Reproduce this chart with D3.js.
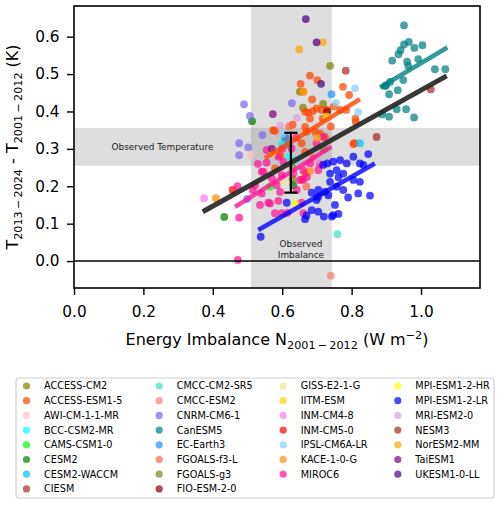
<!DOCTYPE html>
<html>
<head>
<meta charset="utf-8">
<script src="https://cdn.jsdelivr.net/npm/d3@7/dist/d3.min.js"></script>
<style>
  body { margin: 0; background: #fff; }
  svg text { font-family: "DejaVu Sans", sans-serif; fill: #000; }
</style>
</head>
<body>
<div id="chart"></div>
<script>
// model names, in legend order
const models = [
  "ACCESS-CM2", "ACCESS-ESM1-5", "AWI-CM-1-1-MR", "BCC-CSM2-MR", "CAMS-CSM1-0", "CESM2", "CESM2-WACCM", "CIESM",
  "CMCC-CM2-SR5", "CMCC-ESM2", "CNRM-CM6-1", "CanESM5", "EC-Earth3", "FGOALS-f3-L", "FGOALS-g3", "FIO-ESM-2-0",
  "GISS-E2-1-G", "IITM-ESM", "INM-CM4-8", "INM-CM5-0", "IPSL-CM6A-LR", "KACE-1-0-G", "MIROC6",
  "MPI-ESM1-2-HR", "MPI-ESM1-2-LR", "MRI-ESM2-0", "NESM3", "NorESM2-MM", "TaiESM1", "UKESM1-0-LL"
];

// [energy imbalance N 2001-2012 (W m-2), warming T2013-2024 - T2001-2012 (K)] per ensemble member
const ptsACCESS_CM2 = [[0.738,0.522],[0.651,0.453],[0.718,0.420],[0.660,0.410],[0.630,0.220]];
const ptsACCESS_ESM1_5 = [[0.680,0.496],[0.701,0.484],[0.653,0.474],[0.775,0.466],[0.661,0.453],[0.686,0.432],
  [0.793,0.444],[0.699,0.408],[0.714,0.404],[0.666,0.399],[0.675,0.397],[0.688,0.401],[0.728,0.404],[0.749,0.413],
  [0.680,0.381],[0.717,0.381],[0.666,0.359],[0.695,0.346],[0.709,0.341],[0.767,0.404],[0.784,0.404],[0.811,0.381],
  [0.812,0.372],[0.808,0.315],[0.579,0.348],[0.723,0.332],[0.574,0.350],[0.608,0.328],[0.670,0.346],[0.656,0.315],
  [0.666,0.292],[0.690,0.275],[0.579,0.248],[0.603,0.310],[0.594,0.283],[0.805,0.313],[0.656,0.217],[0.666,0.234],
  [0.740,0.360],[0.630,0.365]];
const ptsAWI = [[0.509,0.283],[0.690,0.250]];
const ptsBCC = [[0.599,0.315],[0.620,0.280]];
const ptsCAMS = [[0.565,0.199]];
const ptsCESM2 = [[0.513,0.374],[0.433,0.118],[0.632,0.203]];
const ptsCESM2_WACCM = [[0.824,0.315],[0.620,0.310]];
const ptsCIESM = [[1.028,0.459]];
const ptsCMCC_CM2_SR5 = [[0.759,0.072],[0.640,0.270]];
const ptsCMCC_ESM2 = [[0.740,-0.039]];
const ptsCNRM = [[0.490,0.419],[0.628,0.422],[0.507,0.388],[0.543,0.337],[0.476,0.315],[0.502,0.304],[0.476,0.283],[0.499,0.166]];
const ptsCanESM5 = [[0.951,0.630],[0.951,0.579],[0.965,0.586],[1.004,0.577],[0.981,0.570],[0.941,0.564],[0.935,0.553],
  [0.917,0.536],[0.960,0.533],[0.992,0.540],[0.963,0.522],[1.040,0.513],[1.070,0.513],[0.949,0.484],[0.911,0.479],
  [0.896,0.468],[0.933,0.457],[0.908,0.446],[0.930,0.406],[0.957,0.406],[0.888,0.392],[0.908,0.386],[0.980,0.384],
  [0.900,0.470]];
const ptsEC_Earth3 = [[0.742,0.446],[0.610,0.330]];
const ptsFGOALS_f3 = [[0.670,0.199],[0.620,0.360]];
const ptsFGOALS_g3 = [[0.630,0.250],[0.720,0.300]];
const ptsFIO = [[0.730,0.400]];
const ptsGISS = [[0.600,0.210]];
const ptsIITM = [[0.728,0.386]];
const ptsINM_CM4_8 = [[0.375,0.168]];
const ptsINM_CM5_0 = [[0.457,0.190]];
const ptsIPSL = [[0.810,0.462],[0.755,0.423],[0.819,0.398],[0.600,0.340]];
const ptsKACE = [[0.409,0.168],[0.680,0.240]];
const ptsMIROC6 = [[0.471,0.200],[0.476,0.116],[0.472,0.003],[0.555,0.263],[0.589,0.279],[0.603,0.266],[0.541,0.239],
  [0.570,0.221],[0.599,0.230],[0.651,0.217],[0.671,0.225],[0.515,0.190],[0.541,0.181],[0.594,0.185],[0.642,0.190],
  [0.536,0.150],[0.565,0.154],[0.589,0.161],[0.579,0.128],[0.599,0.128],[0.615,0.129],[0.656,0.156],[0.699,0.315],
  [0.718,0.332],[0.627,0.301],[0.661,0.243],[0.680,0.261],[0.555,0.297],[0.522,0.203],[0.584,0.203],[0.632,0.234],
  [0.661,0.218],[0.704,0.243],[0.709,0.259],[0.661,0.128],[0.546,0.239],[0.560,0.156],[0.530,0.260],[0.600,0.300],
  [0.640,0.330]];
const ptsMPI_HR = [[0.637,0.154],[0.573,0.290]];
const ptsMPI_LR = [[0.538,0.065],[0.666,0.112],[0.685,0.136],[0.704,0.132],[0.720,0.119],[0.743,0.119],[0.762,0.126],
  [0.752,0.150],[0.699,0.163],[0.704,0.172],[0.685,0.183],[0.704,0.190],[0.723,0.185],[0.738,0.212],[0.757,0.199],
  [0.776,0.190],[0.790,0.170],[0.762,0.224],[0.805,0.217],[0.824,0.212],[0.819,0.181],[0.853,0.175],[0.848,0.286],
  [0.805,0.279],[0.824,0.261],[0.834,0.257],[0.786,0.261],[0.767,0.270],[0.747,0.266],[0.730,0.261],[0.718,0.257],
  [0.613,0.156],[0.738,0.234],[0.757,0.243],[0.776,0.234],[0.733,0.176],[0.747,0.123],[0.670,0.122]];
const ptsMRI = [[0.642,0.383],[0.594,0.362],[0.700,0.270]];
const ptsNESM3 = [[0.783,0.509],[0.872,0.332]];
const ptsNorESM2 = [[0.717,0.585],[0.649,0.566],[0.661,0.453],[0.700,0.330]];
const ptsTaiESM1 = [[0.573,0.393],[0.570,0.300]];
const ptsUKESM = [[0.668,0.647],[0.699,0.585],[0.712,0.474]];

const modelPoints = [
  ptsACCESS_CM2, ptsACCESS_ESM1_5, ptsAWI, ptsBCC, ptsCAMS, ptsCESM2, ptsCESM2_WACCM, ptsCIESM,
  ptsCMCC_CM2_SR5, ptsCMCC_ESM2, ptsCNRM, ptsCanESM5, ptsEC_Earth3, ptsFGOALS_f3, ptsFGOALS_g3, ptsFIO,
  ptsGISS, ptsIITM, ptsINM_CM4_8, ptsINM_CM5_0, ptsIPSL, ptsKACE, ptsMIROC6,
  ptsMPI_HR, ptsMPI_LR, ptsMRI, ptsNESM3, ptsNorESM2, ptsTaiESM1, ptsUKESM
];

// per-model regression lines (models with large ensembles)
const fitModels = ["ACCESS-ESM1-5", "CanESM5", "MIROC6", "MPI-ESM1-2-LR"];
const fitX0 = [0.550, 0.882, 0.464, 0.531];
const fitY0 = [0.275, 0.464, 0.145, 0.083];
const fitX1 = [0.824, 1.076, 0.742, 0.867];
const fitY1 = [0.433, 0.571, 0.306, 0.261];

// regression across all members
const allFitX = [0.371, 1.074];
const allFitY = [0.132, 0.495];

// observations
const obsImbalance = [0.51, 0.743];
const obsTemperature = [0.255, 0.356];
const obsErrX = 0.625;
const obsErrY = [0.183, 0.343];

const xTicks = [0, 0.2, 0.4, 0.6, 0.8, 1.0];
const yTicks = [0, 0.1, 0.2, 0.3, 0.4, 0.5, 0.6];

// colours (style)
const colors = [
  "#808000", "#ff4500", "#ffc0cb", "#00ffff", "#00ff00", "#008000", "#00bfff", "#a52a2a",
  "#40e0d0", "#fa8072", "#7b68ee", "#008080", "#1e90ff", "#ff6347", "#6b8e23", "#8b0000",
  "#f0e68c", "#ffd700", "#ee82ee", "#ff0000", "#87cefa", "#ff8c00", "#ff1493",
  "#ffff00", "#0000ff", "#dda0dd", "#a52a2a", "#ffa500", "#800080", "#4b0082"
];
const color = d3.scaleOrdinal().domain(models).range(colors);

const font = "DejaVu Sans, sans-serif";
const width = 500, height = 505;
const margin = {left: 74, right: 20, top: 6, bottom: 217};

const svg = d3.select("#chart").append("svg")
    .attr("width", width)
    .attr("height", height);

const x = d3.scaleLinear().domain([0, 1.17]).range([margin.left, width - margin.right]);
const y = d3.scaleLinear().domain([-0.072, 0.682]).range([height - margin.bottom, margin.top]);

svg.append("clipPath").attr("id", "clip")
  .append("rect")
    .attr("x", x(0)).attr("y", y(0.682))
    .attr("width", x(1.17) - x(0)).attr("height", y(-0.072) - y(0.682));

const plot = svg.append("g").attr("clip-path", "url(#clip)");

// observed ranges
plot.append("rect")
    .attr("x", x(obsImbalance[0])).attr("width", x(obsImbalance[1]) - x(obsImbalance[0]))
    .attr("y", y(0.682)).attr("height", y(-0.072) - y(0.682))
    .attr("fill", "#808080").attr("fill-opacity", 0.26);
plot.append("rect")
    .attr("x", x(0)).attr("width", x(1.17) - x(0))
    .attr("y", y(obsTemperature[1])).attr("height", y(obsTemperature[0]) - y(obsTemperature[1]))
    .attr("fill", "#808080").attr("fill-opacity", 0.26);

plot.append("text")
    .attr("x", x(0.255)).attr("y", y(0.3055))
    .attr("dy", "0.35em")
    .attr("text-anchor", "middle")
    .style("font-family", font)
    .style("font-size", "8.9px")
    .style("fill", "#222")
    .text("Observed Temperature");

const imb = plot.append("text")
    .attr("text-anchor", "middle")
    .style("font-family", font)
    .style("font-size", "8.9px")
    .style("fill", "#222");
imb.append("tspan").attr("x", x(0.654)).attr("y", y(0.045)).attr("dy", "0.35em").text("Observed");
imb.append("tspan").attr("x", x(0.654)).attr("y", y(0.017)).attr("dy", "0.35em").text("Imbalance");

// ensemble members
const allPts = [];
models.forEach((m, i) => modelPoints[i].forEach(p => allPts.push({model: m, x: p[0], y: p[1]})));

plot.selectAll("circle.member")
  .data(allPts)
  .enter()
  .append("circle")
    .attr("class", "member")
    .attr("cx", d => x(d.x))
    .attr("cy", d => y(d.y))
    .attr("r", 3.9)
    .attr("fill", d => color(d.model))
    .attr("fill-opacity", 0.72);

// zero line
plot.append("line")
    .attr("x1", x(0)).attr("x2", x(1.17))
    .attr("y1", y(0)).attr("y2", y(0))
    .attr("stroke", "#000").attr("stroke-width", 1.6);

// per-model fits
plot.selectAll("line.fit")
  .data(fitModels)
  .enter()
  .append("line")
    .attr("class", "fit")
    .attr("x1", (d, i) => x(fitX0[i])).attr("y1", (d, i) => y(fitY0[i]))
    .attr("x2", (d, i) => x(fitX1[i])).attr("y2", (d, i) => y(fitY1[i]))
    .attr("stroke", d => color(d))
    .attr("stroke-width", 4.5)
    .attr("stroke-opacity", 0.8);

// multi-model fit
plot.append("line")
    .attr("x1", x(allFitX[0])).attr("y1", y(allFitY[0]))
    .attr("x2", x(allFitX[1])).attr("y2", y(allFitY[1]))
    .attr("stroke", "#222")
    .attr("stroke-width", 5)
    .attr("stroke-opacity", 0.9);

// observed warming uncertainty
const eb = plot.append("g").attr("stroke", "#000").attr("stroke-width", 2.2);
eb.append("line").attr("x1", x(obsErrX)).attr("x2", x(obsErrX)).attr("y1", y(obsErrY[0])).attr("y2", y(obsErrY[1]));
obsErrY.forEach(v => {
  eb.append("line").attr("x1", x(obsErrX) - 6.5).attr("x2", x(obsErrX) + 6.5).attr("y1", y(v)).attr("y2", y(v));
});

// axes
const xAxis = svg.append("g")
    .attr("transform", `translate(0, ${y(-0.072)})`)
    .call(d3.axisBottom(x).tickValues(xTicks).tickFormat(d3.format(".1f")).tickSize(7).tickPadding(11).tickSizeOuter(0));
const yAxis = svg.append("g")
    .attr("transform", `translate(${x(0)}, 0)`)
    .call(d3.axisLeft(y).tickValues(yTicks).tickFormat(d3.format(".1f")).tickSize(7).tickPadding(7.5).tickSizeOuter(0));
[xAxis, yAxis].forEach(a => {
  a.select(".domain").remove();
  a.selectAll(".tick line").attr("stroke", "#000").attr("stroke-width", 1.4);
  a.selectAll(".tick text").style("font-size", "15.3px").style("font-family", font);
});

// frame
svg.append("rect")
    .attr("x", x(0)).attr("y", y(0.682))
    .attr("width", x(1.17) - x(0)).attr("height", y(-0.072) - y(0.682))
    .attr("fill", "none").attr("stroke", "#000").attr("stroke-width", 1.6);

// axis labels
const xl = svg.append("text")
    .attr("x", (x(0) + x(1.17)) / 2).attr("y", 345)
    .attr("text-anchor", "middle")
    .style("font-family", font)
    .style("font-size", "16px");
xl.append("tspan").text("Energy Imbalance N");
xl.append("tspan").attr("dy", 3.8).style("font-size", "11.2px").text("2001\u2009\u2212\u20092012");
xl.append("tspan").attr("dy", -3.8).text(" (W m");
xl.append("tspan").attr("dy", -6.5).style("font-size", "11.2px").text("\u22122");
xl.append("tspan").attr("dy", 6.5).text(")");

const yl = svg.append("text")
    .attr("transform", `translate(18, ${(y(0.682) + y(-0.072)) / 2}) rotate(-90)`)
    .attr("text-anchor", "middle")
    .style("font-family", font)
    .style("font-size", "16px");
yl.append("tspan").text("T");
yl.append("tspan").attr("dy", 3.8).style("font-size", "11.2px").text("2013\u2009\u2212\u20092024");
yl.append("tspan").attr("dy", -3.8).text(" - T");
yl.append("tspan").attr("dy", 3.8).style("font-size", "11.2px").text("2001\u2009\u2212\u20092012");
yl.append("tspan").attr("dy", -3.8).text(" (K)");

// legend
const legendX = [44, 176.7, 300.7, 415.3];
const colStart = [0, 8, 16, 23];
const rowH = 14.7, row0 = 386;

svg.append("rect")
    .attr("x", 16).attr("y", 378)
    .attr("width", 478).attr("height", 120)
    .attr("rx", 3)
    .attr("fill", "#fff").attr("stroke", "#d0d0d0").attr("stroke-width", 1.2);

const leg = svg.selectAll("g.leg")
  .data(models)
  .enter()
  .append("g")
    .attr("class", "leg")
    .attr("transform", (d, i) => {
      let c = 3;
      while (i < colStart[c]) c--;
      const r = i - colStart[c];
      return `translate(${legendX[c]}, ${row0 + r * rowH})`;
    });
leg.append("circle")
    .attr("cx", -17.5).attr("cy", 0).attr("r", 3.6)
    .attr("fill", d => color(d)).attr("fill-opacity", 0.7);
leg.append("text")
    .attr("x", 0).attr("y", 0).attr("dy", "0.35em")
    .style("font-family", font)
    .style("font-size", "9.7px")
    .text(d => d);
</script>
</body>
</html>
